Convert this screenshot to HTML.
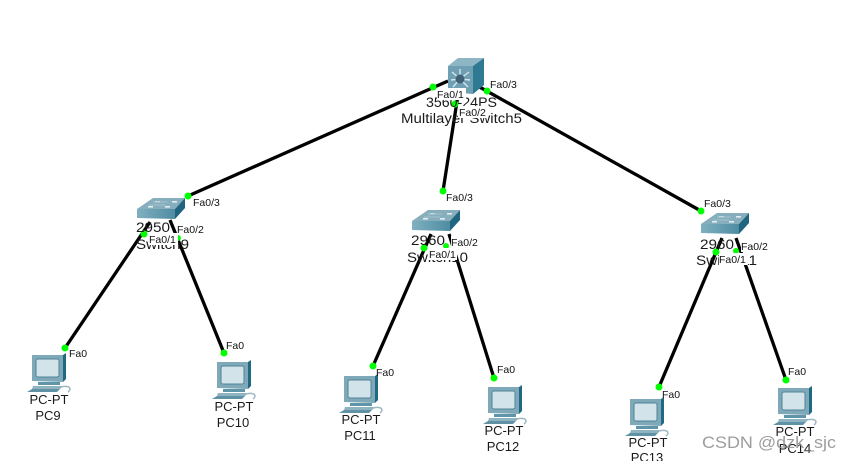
<!DOCTYPE html>
<html><head><meta charset="utf-8"><style>
html,body{margin:0;padding:0;background:#fff;width:851px;height:461px;overflow:hidden}
svg{display:block}
text{font-family:"Liberation Sans",sans-serif}
.n{font-size:13px;fill:#1a1a1a;text-anchor:middle}
.s{font-size:13.5px;fill:#1a1a1a}
.p{font-size:10.5px;fill:#111}
.l{stroke:#000;stroke-width:3.3;fill:none}
.d{fill:#0f0}
</style></head><body>
<svg width="851" height="461" viewBox="0 0 851 461" xmlns="http://www.w3.org/2000/svg">
<defs>
<linearGradient id="sf" x1="0" x2="1" y1="0" y2="0"><stop offset="0" stop-color="#7fb0c0"/><stop offset="1" stop-color="#4f8ca2"/></linearGradient>
<g id="sw">
<polygon points="0,11 16,0 48,0 38,11" fill="#86aebc"/>
<polygon points="0,11 38,11 38,21 0,20" fill="url(#sf)"/>
<polygon points="38,11 48,0 48,10 38,21" fill="#20657f"/>
<g fill="#e4eef2"><rect x="18" y="3" width="5" height="1.6"/><rect x="35" y="3" width="5" height="1.6"/><rect x="11" y="8" width="5" height="1.6"/><rect x="28" y="8" width="5" height="1.6"/></g>
<path d="M16 4L30 4M12 7L28 7" stroke="#a3c3ce" stroke-width="1"/>
</g>
<g id="pc">
<polygon points="5,0 36,0 36,27 5,26" fill="#7fa9b8"/>
<polygon points="36,0 39,-2 39,24 36,27" fill="#1f6a82"/>
<rect x="9" y="4" width="23" height="18" rx="2" fill="#d3e3ea" stroke="#4f8497"/>
<polygon points="11,27 33,27 33,30 11,30" fill="#5f95a8"/>
<polygon points="6,31 36,31 33,34 5,34" fill="#8fb4c1"/>
<polygon points="5,34 33,34 30,37 0,37" fill="#5f92a5"/>
<path d="M34 32C43 30 45 34 41 37" stroke="#9db9c3" stroke-width="1.5" fill="none"/>
</g>
</defs>

<g class="l">
<line x1="448" y1="81" x2="188" y2="196"/>
<line x1="458" y1="95" x2="443" y2="191"/>
<line x1="476" y1="85" x2="701" y2="211"/>
<line x1="150" y1="222" x2="65" y2="348"/>
<line x1="170" y1="220" x2="224" y2="353"/>
<line x1="431" y1="234" x2="373" y2="366"/>
<line x1="449" y1="234" x2="494" y2="378"/>
<line x1="722" y1="238" x2="659" y2="387"/>
<line x1="736" y1="238" x2="786" y2="380"/>
</g>

<!-- link dots -->
<g class="d">
<circle cx="433" cy="87" r="3.5"/><circle cx="455" cy="104" r="3.5"/><circle cx="487" cy="91" r="3.5"/>
<circle cx="188" cy="196" r="3.5"/><circle cx="443" cy="191" r="3.5"/><circle cx="701" cy="211" r="3.5"/>
<circle cx="144" cy="234" r="3.5"/><circle cx="178" cy="238" r="3"/>
<circle cx="424" cy="248" r="3.5"/><circle cx="446" cy="246" r="3"/>
<circle cx="716" cy="252" r="3.5"/><circle cx="736" cy="251" r="3"/>
<circle cx="65" cy="348" r="3.5"/><circle cx="224" cy="353" r="3.5"/><circle cx="373" cy="366" r="3.5"/>
<circle cx="494" cy="378" r="3.5"/><circle cx="659" cy="387" r="3.5"/><circle cx="786" cy="380" r="3.5"/>
</g>

<!-- Multilayer switch -->
<polygon points="448,66 458,58 484,58 473,66" fill="#8db5c3"/>
<polygon points="448,66 473,66 473,94 448,92" fill="#6f9fb2"/>
<polygon points="473,66 484,58 484,85 473,94" fill="#2f7a93"/>
<g stroke="#d6e6ec" stroke-width="1.4">
<path d="M460 79L452 72M460 79L460 69M460 79L469 72M460 79L451 80M460 79L470 80M460 79L453 87M460 79L468 87"/>
</g>
<circle cx="460" cy="79" r="4.5" fill="#3f6277"/>

<use href="#sw" x="137" y="198"/>
<use href="#sw" x="412" y="210"/>
<use href="#sw" x="701" y="213"/>

<use href="#pc" x="27" y="355"/>
<use href="#pc" x="212" y="362"/>
<use href="#pc" x="339" y="376"/>
<use href="#pc" x="483" y="387"/>
<use href="#pc" x="625" y="399"/>
<use href="#pc" x="773" y="388"/>

<!-- device labels -->
<text class="s" x="426" y="107" textLength="71" lengthAdjust="spacingAndGlyphs">3560-24PS</text>
<text class="s" x="401" y="123" textLength="121" lengthAdjust="spacingAndGlyphs">Multilayer Switch5</text>
<text class="s" x="136" y="232" textLength="34" lengthAdjust="spacingAndGlyphs">2950</text>
<text class="s" x="136" y="249" textLength="53" lengthAdjust="spacingAndGlyphs">Switch9</text>
<text class="s" x="411" y="245" textLength="34" lengthAdjust="spacingAndGlyphs">2960</text>
<text class="s" x="407" y="262" textLength="61" lengthAdjust="spacingAndGlyphs">Switch10</text>
<text class="s" x="700" y="249" textLength="34" lengthAdjust="spacingAndGlyphs">2960</text>
<text class="s" x="696" y="265" textLength="61" lengthAdjust="spacingAndGlyphs">Switch11</text>
<text class="n" x="49" y="404">PC-PT</text><text class="n" x="48" y="420">PC9</text>
<text class="n" x="234" y="411">PC-PT</text><text class="n" x="233" y="427">PC10</text>
<text class="n" x="361" y="424">PC-PT</text><text class="n" x="360" y="440">PC11</text>
<text class="n" x="504" y="435">PC-PT</text><text class="n" x="503" y="451">PC12</text>
<text class="n" x="648" y="447">PC-PT</text><text class="n" x="647" y="462">PC13</text>
<text class="n" x="795" y="436">PC-PT</text><text class="n" x="795" y="453">PC14</text>

<!-- port label backgrounds -->
<g fill="#fff">
<rect x="437" y="88" width="29" height="12"/>
<rect x="458" y="106" width="30" height="12"/>
<rect x="149" y="233" width="29" height="12"/>
<rect x="428" y="248" width="29" height="12"/>
<rect x="719" y="253" width="29" height="12"/>
<rect x="177" y="223" width="29" height="12"/>
<rect x="451" y="236" width="29" height="12"/>
<rect x="741" y="240" width="29" height="12"/>
</g>

<!-- port labels -->
<g class="p">
<text x="437" y="98">Fa0/1</text>
<text x="459" y="116">Fa0/2</text>
<text x="490" y="88">Fa0/3</text>
<text x="193" y="206">Fa0/3</text>
<text x="177" y="233">Fa0/2</text>
<text x="149" y="243">Fa0/1</text>
<text x="446" y="201">Fa0/3</text>
<text x="451" y="246">Fa0/2</text>
<text x="429" y="258">Fa0/1</text>
<text x="704" y="207">Fa0/3</text>
<text x="741" y="250">Fa0/2</text>
<text x="719" y="263">Fa0/1</text>
<text x="69" y="357">Fa0</text>
<text x="226" y="349">Fa0</text>
<text x="376" y="376">Fa0</text>
<text x="497" y="373">Fa0</text>
<text x="662" y="398">Fa0</text>
<text x="788" y="375">Fa0</text>
</g>

<text x="702" y="448" font-size="17" fill="#8c8c8c" fill-opacity="0.85" textLength="134" lengthAdjust="spacingAndGlyphs">CSDN @dzk_sjc</text>
</svg>
</body></html>
